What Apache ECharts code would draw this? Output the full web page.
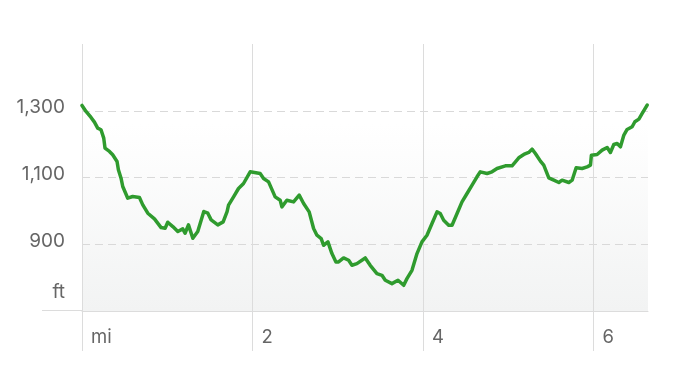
<!DOCTYPE html>
<html><head><meta charset="utf-8">
<script src="https://cdn.jsdelivr.net/npm/echarts@6/dist/echarts.min.js"></script>
<style>html,body{margin:0;padding:0;background:#fff}#c{width:680px;height:376px}</style>
</head><body><div id="c"></div>
<script>
// Elevation profile (miles vs feet)
const distanceMi = [0.00,0.047,0.106,0.146,0.184,0.223,0.255,0.270,0.322,0.360,0.411,0.427,0.458,0.478,0.537,0.595,0.674,0.713,0.772,0.850,0.928,0.975,1.006,1.065,1.124,1.182,1.209,1.249,1.300,1.358,1.429,1.476,1.515,1.593,1.656,1.702,1.719,1.778,1.836,1.895,1.973,2.090,2.130,2.189,2.266,2.325,2.345,2.403,2.482,2.548,2.600,2.665,2.717,2.756,2.806,2.834,2.885,2.932,2.979,3.010,3.069,3.128,3.167,3.225,3.323,3.381,3.460,3.519,3.558,3.636,3.707,3.774,3.812,3.871,3.930,3.988,4.047,4.106,4.165,4.203,4.243,4.302,4.341,4.400,4.458,4.517,4.576,4.634,4.673,4.752,4.810,4.869,4.967,5.045,5.124,5.183,5.241,5.280,5.319,5.378,5.417,5.476,5.535,5.594,5.632,5.711,5.750,5.797,5.867,5.926,5.965,5.976,6.043,6.102,6.161,6.199,6.239,6.278,6.317,6.357,6.395,6.454,6.486,6.533,6.572,6.630];
const elevationFt = [1316,1298,1280,1266,1248,1243,1218,1188,1178,1168,1148,1123,1098,1073,1038,1043,1040,1018,993,976,950,948,966,953,938,946,933,958,918,938,998,993,973,958,967,998,1017,1042,1067,1082,1117,1112,1097,1087,1042,1032,1012,1032,1027,1047,1022,997,947,927,917,897,907,872,847,847,859,852,837,842,859,837,812,807,792,782,792,777,797,822,872,907,927,962,997,992,972,957,957,992,1027,1052,1077,1102,1117,1112,1117,1127,1135,1135,1159,1169,1175,1185,1172,1149,1137,1099,1092,1085,1092,1085,1092,1129,1127,1132,1137,1167,1169,1182,1190,1175,1199,1202,1192,1227,1244,1252,1267,1275,1292,1317];
const xTickValues = [0, 2, 4, 6];
const xTickLabels = ['mi', '2', '4', '6'];
const yMin = 700, yMax = 1500, yStep = 200;
const xMax = 6.64;
const yUnit = 'ft';

const chart = echarts.init(document.getElementById('c'), null, {renderer: 'canvas'});
const pairs = distanceMi.map((d, i) => [d, elevationFt[i]]);
const fmtThousands = v => String(v).replace(/\B(?=(\d{3})+(?!\d))/g, ',');
const gridColor = '#dcdcdc';
const FONT = 'Inter, "Noto Sans", sans-serif';

chart.setOption({
  animation: false,
  backgroundColor: '#ffffff',
  textStyle: {fontFamily: FONT},
  grid: {
    left: 82, right: 32, top: 44, bottom: 65, show: true, borderWidth: 0,
    backgroundColor: new echarts.graphic.LinearGradient(0, 0, 0, 1, [
      {offset: 0, color: '#ffffff'},
      {offset: 0.3, color: '#ffffff'},
      {offset: 1, color: '#f2f3f3'}
    ])
  },
  xAxis: {
    type: 'value', min: 0, max: xMax, interval: 2,
    axisLine: {show: true, lineStyle: {color: gridColor, width: 1}},
    axisTick: {show: true, customValues: xTickValues, length: 40, inside: false, lineStyle: {color: gridColor, width: 1}},
    splitLine: {show: true, lineStyle: {color: gridColor, width: 1}},
    axisLabel: {
      customValues: xTickValues,
      formatter: v => { const i = xTickValues.indexOf(v); return i >= 0 ? xTickLabels[i] : ''; },
      align: 'left', padding: [0, 0, 0, 9], margin: 17,
      fontSize: 18.5, color: '#666666', fontFamily: FONT
    }
  },
  yAxis: {
    type: 'value', min: yMin, max: yMax, interval: yStep,
    axisLine: {show: false},
    axisTick: {show: false},
    splitLine: {show: true, lineStyle: {color: ['rgba(0,0,0,0)', '#d9d9d9', '#d9d9d9', '#d9d9d9', 'rgba(0,0,0,0)'], type: [8, 5], width: 1}},
    axisLabel: {
      margin: 17, fontSize: 19, color: '#666666', fontFamily: FONT,
      verticalAlign: 'middle',
      formatter: v => v === yMin ? '{u|' + yUnit + '}' : (v === yMax ? '' : '{n|' + fmtThousands(v) + '}'),
      rich: {
        n: {fontSize: 19, color: '#666666', padding: [0, 0, 6, 0], fontFamily: FONT},
        u: {fontSize: 19, color: '#666666', padding: [0, 0, 37, 0], fontFamily: FONT}
      }
    }
  },
  series: [{
    type: 'line', data: pairs, showSymbol: false, symbol: 'none', smooth: false,
    lineStyle: {color: '#2f9b2e', width: 3.5, join: 'round', cap: 'round'},
    z: 5
  }]
});

// extend the baseline to the left under the unit label
const p = chart.convertToPixel({gridIndex: 0}, [0, yMin]);
const yy = Math.round(p[1]) - 0.5;
chart.setOption({
  graphic: [{
    type: 'line', silent: true, z: 1,
    shape: {x1: p[0] - 40, y1: yy, x2: p[0], y2: yy},
    style: {stroke: gridColor, lineWidth: 1}
  }]
});
</script></body></html>
